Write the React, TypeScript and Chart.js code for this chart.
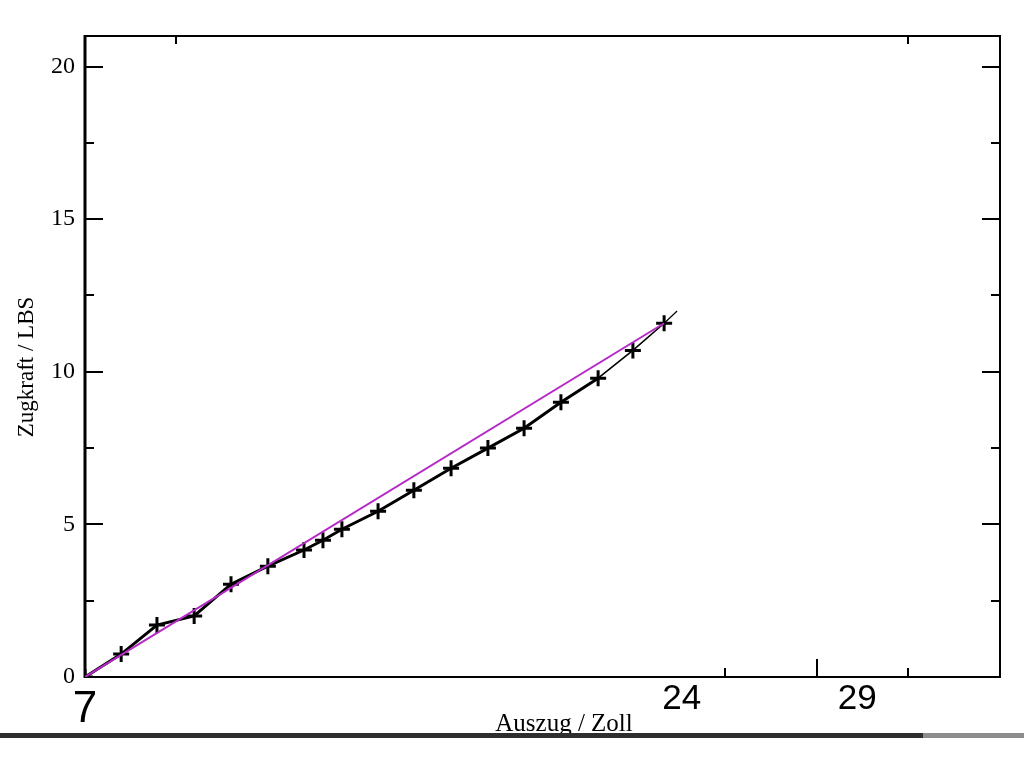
import React, { useEffect, useRef } from "react";
import { Chart, registerables } from "chart.js";

Chart.register(...registerables);

// Measured data (Auszug in Zoll, Zugkraft in LBS)
const auszug = [7.0, 8.03, 9.05, 10.11, 11.16, 12.21, 13.24, 13.78, 14.32, 15.35, 16.37, 17.43, 18.48, 19.51, 20.56, 21.62, 22.61, 23.5];
const zugkraft = [0, 0.75, 1.7, 2.0, 3.04, 3.63, 4.16, 4.48, 4.84, 5.43, 6.12, 6.84, 7.5, 8.15, 9.0, 9.79, 10.7, 11.59];

// Straight reference line (magenta)
const fitX = [7.0, 23.5];
const fitY = [0, 11.59];

// Thin continuation of the measured curve
const extX = [23.5, 23.87];
const extY = [11.59, 11.99];

// Axis ticks
const xTickLabels = [7, 24, 29];
const yTickLabels = [0, 5, 10, 15, 20];
const yMinorTicks = [2.5, 7.5, 12.5, 17.5];
const bottomMajorTicks = [27.85];
const bottomMinorTicks = [25.23, 30.45];
const topMinorTicks = [9.59, 30.45];

const xMin = 7;
const xMax = 33.07;
const yMin = 0;
const yMax = 21;

const xTitle = "Auszug / Zoll";
const yTitle = "Zugkraft / LBS";

const toPoints = (xs: number[], ys: number[]) => xs.map((x, i) => ({ x, y: ys[i] }));

const framePlugin = {
  id: "frame",
  beforeDatasetsDraw(chart: any) {
    const { ctx, chartArea: a, scales } = chart;
    const xs = scales.x;
    const ys = scales.y;
    ctx.save();
    ctx.strokeStyle = "#000";
    // frame
    ctx.lineWidth = 2;
    ctx.beginPath();
    ctx.moveTo(a.left, a.top);
    ctx.lineTo(a.right, a.top);
    ctx.lineTo(a.right, a.bottom);
    ctx.lineTo(a.left, a.bottom);
    ctx.stroke();
    ctx.lineWidth = 3;
    ctx.beginPath();
    ctx.moveTo(a.left, a.top - 1);
    ctx.lineTo(a.left, a.bottom + 1);
    ctx.stroke();
    // y ticks (left and right, inward)
    ctx.lineWidth = 2;
    const yt = (vals: number[], len: number) => {
      vals.forEach((v) => {
        const p = Math.round(ys.getPixelForValue(v));
        ctx.beginPath();
        ctx.moveTo(a.left, p);
        ctx.lineTo(a.left + len, p);
        ctx.moveTo(a.right, p);
        ctx.lineTo(a.right - len, p);
        ctx.stroke();
      });
    };
    yt(yTickLabels, 18);
    yt(yMinorTicks, 9);
    const xt = (vals: number[], len: number, top: boolean) => {
      vals.forEach((v) => {
        const p = Math.round(xs.getPixelForValue(v));
        ctx.beginPath();
        if (top) {
          ctx.moveTo(p, a.top);
          ctx.lineTo(p, a.top + len);
        } else {
          ctx.moveTo(p, a.bottom);
          ctx.lineTo(p, a.bottom - len);
        }
        ctx.stroke();
      });
    };
    xt(bottomMajorTicks, 18, false);
    xt(bottomMinorTicks, 9, false);
    xt(topMinorTicks, 8, true);
    ctx.restore();
  },
  afterDraw(chart: any) {
    const { ctx } = chart;
    ctx.save();
    ctx.fillStyle = "#000";
    ctx.font = "25px 'Liberation Serif', 'Times New Roman', serif";
    ctx.textAlign = "center";
    ctx.textBaseline = "alphabetic";
    ctx.fillText(xTitle, 564, 731);
    ctx.translate(33, 367);
    ctx.rotate(-Math.PI / 2);
    ctx.font = "23px 'Liberation Serif', 'Times New Roman', serif";
    ctx.fillText(yTitle, 0, 0);
    ctx.restore();
  },
};

export default function App() {
  const ref = useRef<HTMLCanvasElement | null>(null);

  useEffect(() => {
    if (!ref.current) return;
    const chart = new Chart(ref.current, {
      type: "line",
      data: {
        datasets: [
          {
            label: "Gerade",
            data: toPoints(fitX, fitY),
            borderColor: "#b52ac6",
            borderWidth: 2,
            pointRadius: 0,
            fill: false,
          },
          {
            label: "Verlängerung",
            data: toPoints(extX, extY),
            borderColor: "#000",
            borderWidth: 1.2,
            pointRadius: 0,
            fill: false,
          },
          {
            label: "Messung",
            data: toPoints(auszug, zugkraft),
            borderColor: "#000",
            borderWidth: 3,
            pointStyle: "cross",
            pointRadius: 8,
            pointBorderWidth: 3,
            pointBorderColor: "#000",
            fill: false,
            segment: {
              borderWidth: (c: any) => (c.p0DataIndex >= 15 ? 1.6 : 3),
            },
          },
        ],
      },
      options: {
        animation: false,
        responsive: false,
        devicePixelRatio: 1,
        layout: { padding: { top: 36, right: 24, left: 0, bottom: 0 } },
        plugins: { legend: { display: false }, tooltip: { enabled: false } },
        scales: {
          x: {
            type: "linear",
            position: "bottom",
            min: xMin,
            max: xMax,
            border: { display: false },
            grid: { display: false, drawTicks: false },
            afterBuildTicks: (s: any) => {
              s.ticks = xTickLabels.map((v) => ({ value: v }));
            },
            afterFit: (s: any) => {
              s.height = 91;
            },
            ticks: {
              autoSkip: false,
              maxRotation: 0,
              padding: 1,
              color: "#000",
              callback: (v: any) => String(v),
              font: (c: any) =>
                c.tick && c.tick.value === 7
                  ? { family: "'Liberation Sans', Arial, sans-serif", size: 44, lineHeight: 1.45 }
                  : { family: "'Liberation Sans', Arial, sans-serif", size: 35, lineHeight: 1.2 },
            },
          },
          y: {
            type: "linear",
            min: yMin,
            max: yMax,
            border: { display: false },
            grid: { display: false, drawTicks: false },
            afterBuildTicks: (s: any) => {
              s.ticks = yTickLabels.map((v) => ({ value: v }));
            },
            afterFit: (s: any) => {
              s.width = 85;
            },
            ticks: {
              padding: 10,
              color: "#000",
              font: { family: "'Liberation Serif', 'Times New Roman', serif", size: 24 },
            },
          },
        },
      },
      plugins: [framePlugin],
    });
    return () => chart.destroy();
  }, []);

  return (
    <div style={{ position: "absolute", left: 0, top: 0, width: 1024, height: 768, background: "#fff", overflow: "hidden" }}>
      <canvas ref={ref} width={1024} height={768} style={{ display: "block" }} />
      <div style={{ position: "absolute", left: 0, top: 733, width: 923, height: 5, background: "#2e2e2e" }} />
      <div style={{ position: "absolute", left: 923, top: 733, width: 101, height: 5, background: "#8c8c8c" }} />
    </div>
  );
}
